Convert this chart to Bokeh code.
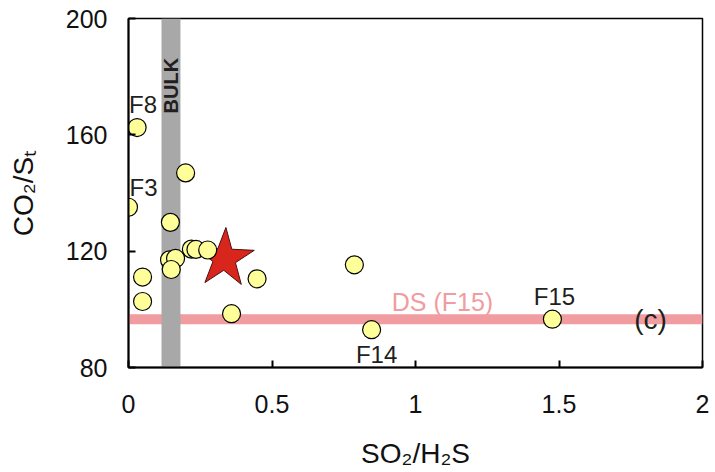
from bokeh.plotting import figure
from bokeh.models import (Range1d, FixedTicker, NumeralTickFormatter, Span,
                          BoxAnnotation, ColumnDataSource)
from bokeh.core.properties import value
from bokeh.embed import file_html
from bokeh.resources import INLINE
import math

# ---- data ----
so2_h2s = [0.030, 0.000, 0.199, 0.146, 0.143, 0.164, 0.149, 0.219, 0.235, 0.276,
           0.049, 0.049, 0.448, 0.359, 0.787, 0.847, 1.477]
co2_st = [162.5, 135.1, 146.9, 129.9, 117.0, 117.5, 113.7, 120.7, 120.6, 120.4,
          111.1, 102.7, 110.5, 98.5, 115.3, 93.0, 96.6]

star_x = [0.334]
star_y = [117.5]

label_names = ["F8", "F3", "F14", "F15"]
label_x = [0.030, 0.000, 0.847, 1.477]
label_y = [162.5, 135.1, 93.0, 96.6]
label_dx = [6, 15, 5, 2]
label_dy = [-23, -20, 25, -23]

bulk_left, bulk_right = 0.115, 0.181
ds_level = 96.6

x_ticks = [0, 0.5, 1, 1.5, 2]
y_ticks = [80, 120, 160, 200]

FONT = "Liberation Sans"
INK = "#231f20"

p = figure(width=712, height=472, x_range=Range1d(0, 2), y_range=Range1d(80, 200),
           output_backend="svg", toolbar_location=None,
           min_border_left=128, min_border_right=10, min_border_top=18,
           min_border_bottom=105)
p.grid.visible = False
p.outline_line_color = "black"
p.outline_line_width = 1.5
p.background_fill_color = "white"

for ax in (p.xaxis[0], p.yaxis[0]):
    ax.axis_line_width = 2
    ax.axis_line_color = "black"
    ax.major_tick_in = 7
    ax.major_tick_out = 0
    ax.major_tick_line_width = 2
    ax.major_tick_line_color = "black"
    ax.minor_tick_line_color = None
    ax.major_label_text_font = FONT
    ax.major_label_text_font_size = "25px"
    ax.major_label_text_color = "#111111"
    ax.axis_label_text_font = FONT
    ax.axis_label_text_font_size = "28px"
    ax.axis_label_text_font_style = "normal"
    ax.axis_label_text_color = "#111111"

p.xaxis.ticker = FixedTicker(ticks=x_ticks)
p.xaxis.formatter = NumeralTickFormatter(format="0.[0]")
p.xaxis.major_label_standoff = 27
p.xaxis.axis_label = "SO\u2082/H\u2082S"
p.xaxis.axis_label_standoff = 22

p.yaxis.ticker = FixedTicker(ticks=y_ticks)
p.yaxis.major_label_standoff = 21
p.yaxis.axis_label = "CO\u2082/S\u209c"
p.yaxis.axis_label_standoff = 24

# DS (F15) line and BULK band
p.add_layout(Span(location=ds_level, dimension="width", line_color="#f19ca0",
                  line_width=10, level="underlay"))
p.add_layout(BoxAnnotation(left=bulk_left, right=bulk_right, fill_color="#a8a8a8",
                           fill_alpha=1.0, line_color=None, level="underlay"))

p.text(x=[(bulk_left + bulk_right) / 2], y=[176.9], text=["BULK"], angle=math.pi / 2,
       text_font=value(FONT), text_font_size="20px", text_font_style="bold",
       text_color=INK, text_align="center", text_baseline="middle")

p.text(x=[1.094], y=[ds_level], text=["DS (F15)"], y_offset=-17,
       text_font=value(FONT), text_font_size="25px", text_color="#f19ca0",
       text_align="center", text_baseline="middle")
p.text(x=[1.819], y=[ds_level], text=["(c)"],
       text_font=value(FONT), text_font_size="28px", text_color=INK,
       text_align="center", text_baseline="middle")

# star
p.scatter(x=star_x, y=star_y, marker="star", size=62, fill_color="#d9261c",
          line_color="#4a1212", line_width=1, angle=-0.05)

# samples
p.scatter(x=so2_h2s, y=co2_st, marker="circle", size=18, fill_color="#ffff99",
          line_color="black", line_width=1.2)

lab = ColumnDataSource(dict(x=label_x, y=label_y, t=label_names, dx=label_dx, dy=label_dy))
p.text(x="x", y="y", text="t", x_offset="dx", y_offset="dy", source=lab,
       text_font=value(FONT), text_font_size="24px", text_color=INK,
       text_align="center", text_baseline="middle")

open("out.html", "w").write(file_html(p, INLINE))
